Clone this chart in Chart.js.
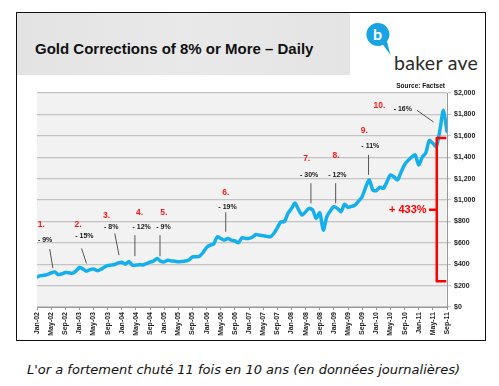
<!DOCTYPE html>
<html>
<head>
<meta charset="utf-8">
<script src="https://cdn.jsdelivr.net/npm/chart.js@4.4.0/dist/chart.umd.min.js"></script>
<style>
  html, body { margin: 0; padding: 0; background: #fff; }
  body { width: 499px; height: 386px; position: relative; overflow: hidden; font-family: 'Liberation Sans', Arial, sans-serif; }
  .frame { position: absolute; left: 16px; top: 12px; width: 470px; height: 329px; box-sizing: border-box; border: 1.5px solid #111; }
  .header { position: absolute; left: 17px; top: 13px; width: 333px; height: 62px;
            background: linear-gradient(90deg, #e3e3e3 0%, #e9e9e9 50%, #e4e4e4 100%); }
  .title { position: absolute; left: 35px; top: 41px; font-size: 15px; line-height: 15px; font-weight: bold; color: #111; white-space: nowrap; }
  .logo-text { position: absolute; left: 394px; top: 53px; font-family: Lato, sans-serif; font-size: 19.5px; line-height: 19.5px; color: #2b2b2b; white-space: nowrap; letter-spacing: 0.3px; }
  .logo-bubble { position: absolute; left: 365px; top: 22px; }
  .caption { position: absolute; left: 0; width: 487px; top: 363px; text-align: center; font-family: 'DejaVu Sans', Verdana, sans-serif; font-style: italic; font-size: 13px; line-height: 14px; color: #111; white-space: nowrap; }
  canvas { position: absolute; left: 0; top: 0; }
</style>
</head>
<body>
<div class="frame"></div>
<div class="header"></div>
<div class="title">Gold Corrections of 8% or More – Daily</div>
<svg class="logo-bubble" width="28" height="34" viewBox="0 0 28 34">
  <path d="M12.5 1 A11.5 11.5 0 1 0 18 22.8 L25.5 33 L22 19.5 A11.5 11.5 0 0 0 12.5 1 Z" fill="#1aa3e3"/>
  <text x="12.5" y="18" text-anchor="middle" font-family="Lato, sans-serif" font-size="16" font-weight="bold" fill="#fff">b</text>
</svg>
<div class="logo-text">baker ave</div>
<div class="caption">L'or a fortement chuté 11 fois en 10 ans (en données journalières)</div>
<canvas id="goldChart" width="499" height="386"></canvas>

<script>
// ===== DATA (monthly, Jan-02 .. Sep-11) =====
const prices = [
  281, 293, 296, 305, 318, 328, 304, 310, 322, 320, 315, 335,
  369, 355, 335, 350, 355, 340, 350, 372, 388, 392, 397, 412,
  419, 400, 425, 390, 392, 395, 393, 405, 419, 430, 453, 428,
  422, 437, 430, 428, 422, 425, 430, 440, 469, 470, 475, 510,
  557, 578, 590, 656, 640, 625, 641, 625, 617, 601, 647, 640,
  641, 655, 678, 670, 666, 660, 656, 687, 740, 795, 797, 875,
  920, 972, 910, 860, 890, 922, 906, 828, 881, 719, 844, 900,
  937, 922, 890, 960, 931, 940, 953, 990, 1031, 1120, 1188, 1094,
  1087, 1119, 1109, 1170, 1234, 1215, 1188, 1260, 1330, 1370, 1400, 1422,
  1328, 1400, 1440, 1556, 1530, 1500, 1656, 1838, 1641
];
const tickLabels = ['Jan-02','May-02','Sep-02','Jan-03','May-03','Sep-03','Jan-04','May-04','Sep-04',
  'Jan-05','May-05','Sep-05','Jan-06','May-06','Sep-06','Jan-07','May-07','Sep-07','Jan-08','May-08',
  'Sep-08','Jan-09','May-09','Sep-09','Jan-10','May-10','Sep-10','Jan-11','May-11','Sep-11'];
const corrNum = ['1.','2.','3.','4.','5.','6.','7.','8.','9.','10.'];
const corrPct = ['- 9%','- 15%','- 8%','- 12%','- 9%','- 19%','- 30%','- 12%','- 11%','- 16%'];
const gainLabel = '+ 433%';
const gainLow = 241, gainHigh = 1579;

// annotation placement in data units: [month, price]
const corrLayout = [
  { num: [1.25, 766], pct: [2.3, 625],  line: [3.6, 541, 4.5, 363] },
  { num: [11.6, 772], pct: [13.4, 666], line: [12.6, 547, 14.0, 407] },
  { num: [19.7, 850], pct: [21.0, 744], line: [22.0, 688, 23.2, 485] },
  { num: [29.0, 885], pct: [29.6, 744], line: [27.7, 672, 27.7, 475] },
  { num: [35.9, 885], pct: [35.8, 744], line: [34.8, 672, 34.8, 473] },
  { num: [53.4, 1072], pct: [53.9, 935], line: [53.4, 885, 53.4, 703] },
  { num: [76.3, 1382], pct: [77.0, 1235], line: [77.5, 1157, 77.5, 969] },
  { num: [84.6, 1416], pct: [85.0, 1235], line: [84.5, 1157, 84.5, 969] },
  { num: [92.6, 1650], pct: [94.3, 1507], line: [93.8, 1422, 93.8, 1235] },
  { num: [96.9, 1882], pct: [103.5, 1851], line: [107.5, 1838, 112.2, 1729] }
];
const bracketLayout = { x: 113.1, right: 115.8, mid: 910, tickLeft: 110.9, text: 104.9 };

// ===== PLUGINS =====
const plotBg = {
  id: 'plotBg',
  beforeDraw(chart) {
    const { ctx, chartArea: a } = chart;
    ctx.save();
    ctx.fillStyle = '#f2f2f2';
    ctx.fillRect(a.left, a.top, a.right - a.left, a.bottom - a.top);
    ctx.restore();
  }
};

const annotations = {
  id: 'annotations',
  afterDatasetsDraw(chart) {
    const { ctx, scales: { x, y } } = chart;
    const px = v => x.getPixelForValue(v), py = v => y.getPixelForValue(v);
    ctx.save();
    ctx.textAlign = 'center';
    ctx.textBaseline = 'middle';
    corrLayout.forEach((c, i) => {
      ctx.strokeStyle = '#555';
      ctx.lineWidth = 1;
      ctx.beginPath();
      ctx.moveTo(px(c.line[0]), py(c.line[1]));
      ctx.lineTo(px(c.line[2]), py(c.line[3]));
      ctx.stroke();
      ctx.fillStyle = '#ff1a1a';
      ctx.font = "bold 8.5px 'Liberation Sans', Arial, sans-serif";
      ctx.fillText(corrNum[i], px(c.num[0]), py(c.num[1]));
      ctx.fillStyle = '#1a1a1a';
      ctx.font = "bold 7px 'Liberation Sans', Arial, sans-serif";
      ctx.fillText(corrPct[i], px(c.pct[0]), py(c.pct[1]));
    });

    // red bracket + gain label
    const b = bracketLayout;
    ctx.strokeStyle = '#ff0000';
    ctx.lineWidth = 2.5;
    ctx.lineJoin = 'round';
    ctx.beginPath();
    ctx.moveTo(px(b.right), py(gainHigh));
    ctx.lineTo(px(b.x), py(gainHigh));
    ctx.lineTo(px(b.x), py(gainLow));
    ctx.lineTo(px(b.right), py(gainLow));
    ctx.moveTo(px(b.x), py(b.mid));
    ctx.lineTo(px(b.tickLeft), py(b.mid));
    ctx.stroke();
    ctx.fillStyle = '#ff0000';
    ctx.font = "bold 11px 'Liberation Sans', Arial, sans-serif";
    ctx.fillText(gainLabel, px(b.text), py(b.mid));

    ctx.restore();
  },
  afterDraw(chart) {
    const { ctx, chartArea: a } = chart;
    ctx.save();
    ctx.fillStyle = '#111';
    ctx.font = "bold 6.5px 'Liberation Sans', Arial, sans-serif";
    ctx.textAlign = 'right';
    ctx.fillText('Source: Factset', a.right - 2, a.top - 5);
    ctx.restore();
  }
};

// ===== CHART =====
const tickFont = { family: "'Liberation Sans', Arial, sans-serif", size: 7, weight: 'bold' };

new Chart(document.getElementById('goldChart').getContext('2d'), {
  type: 'line',
  data: {
    datasets: [{
      data: prices.map((v, i) => ({ x: i, y: v })),
      borderColor: '#14b0ee',
      borderWidth: 3.5,
      pointRadius: 0,
      tension: 0.25,
      borderJoinStyle: 'round',
      borderCapStyle: 'round'
    }]
  },
  options: {
    responsive: false,
    animation: false,
    layout: { padding: { left: 37, top: 93, right: 12, bottom: 49 } },
    plugins: { legend: { display: false }, tooltip: { enabled: false } },
    scales: {
      x: {
        type: 'linear', min: 0, max: 116,
        afterFit: s => { s.height = 30; },
        ticks: {
          stepSize: 4, autoSkip: false, maxRotation: 90, minRotation: 90,
          color: '#222', font: tickFont, padding: 2,
          callback: v => tickLabels[v / 4]
        },
        grid: { drawOnChartArea: false, color: '#999', tickLength: 3 },
        border: { color: '#999' }
      },
      y: {
        position: 'right', min: 0, max: 2000,
        afterFit: s => { s.width = 40; },
        ticks: {
          stepSize: 200, color: '#222', font: tickFont, padding: 3,
          callback: v => '$' + v.toLocaleString('en-US')
        },
        grid: { color: '#c4c4c4', lineWidth: 1.2, tickLength: 4 },
        border: { color: '#999' }
      }
    }
  },
  plugins: [plotBg, annotations]
});
</script>
</body>
</html>
